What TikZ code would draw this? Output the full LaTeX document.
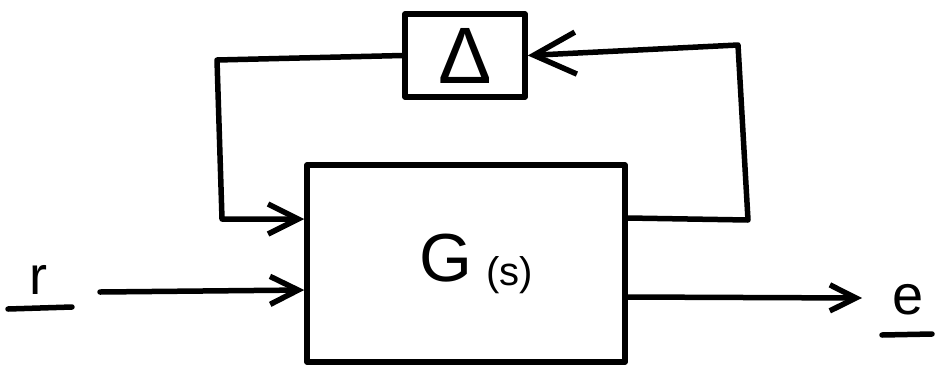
\documentclass[tikz,border=0pt]{standalone}
\usepackage{fontspec}
\setmainfont{Liberation Sans}
\usetikzlibrary{arrows.meta}
\begin{document}
\begin{tikzpicture}[x=1pt,y=-1pt, line width=5.5pt, line cap=round, line join=round,
  blockbox/.style={draw, rectangle, inner sep=0pt},
  bigbarb/.style={-{Straight Barb[length=#1,width=#1]}}
]
\useasboundingbox[fill=white] (0,0) rectangle (937,373);
% blocks
\node[blockbox, minimum width=120pt, minimum height=83pt] (D) at (465,55.5)
  {\raisebox{-3pt}{\fontsize{80}{80}\selectfont Δ}};
\node[blockbox, minimum width=318pt, minimum height=197pt] (G) at (466,263.5)
  {\hspace*{20pt}\raisebox{-12pt}{\fontsize{68}{68}\selectfont G\hspace{14pt}\fontsize{40}{40}\selectfont\raisebox{-4pt}{(s)}}};
% labels
\node (r) at (38,280) {\fontsize{54}{54}\selectfont r};
\node (e) at (908,300) {\fontsize{56}{56}\selectfont e};
\draw (8,309) -- (72,307);
\draw (882,335) -- (932,334);
% helper coordinates
\coordinate (rtail) at (100,292);
\coordinate (inY) at (0,290);
\coordinate (outY) at (0,297);
\coordinate (etip) at (862,298);
\coordinate (fbR) at (0,218);
\coordinate (c1) at (748,220);
\coordinate (c2) at (738,45);
\coordinate (c3) at (217,60);
\coordinate (c4) at (222,219);
% connectors
\draw[bigbarb=28pt] (rtail) -- (G.west |- inY);
\draw[bigbarb=26pt] (G.east |- outY) -- (etip);
\draw[bigbarb=42pt] (G.east |- fbR) -- (c1) -- (c2) -- (D.east);
\draw[bigbarb=30pt] (D.west) -- (c3) -- (c4) -- (G.west |- c4);
\end{tikzpicture}
\end{document}
